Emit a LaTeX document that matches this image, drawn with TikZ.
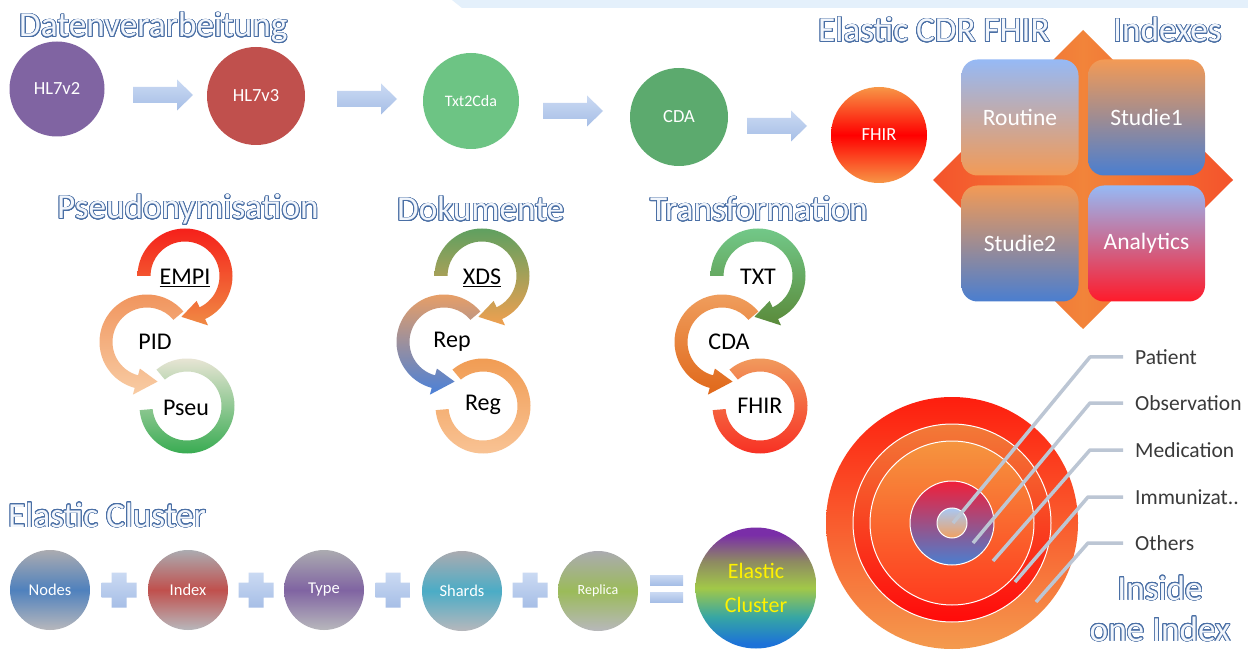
\documentclass[tikz,border=0pt]{standalone}
\usepackage{fontspec}
\setmainfont{Carlito}
\usepackage{contour}
\contourlength{0.85pt}
\contournumber{24}
\usetikzlibrary{shapes.geometric}
\definecolor{hb}{HTML}{4A6FA5}
\definecolor{hf}{HTML}{F2F6FC}
\definecolor{stripc}{HTML}{E4F0FB}
\definecolor{arrA}{HTML}{CBDAF3}
\definecolor{arrB}{HTML}{A6BEE6}
\definecolor{cPur}{HTML}{8064A2}
\definecolor{cRed}{HTML}{C0504D}
\definecolor{cGrnA}{HTML}{6DC484}
\definecolor{cGrnB}{HTML}{5CAA6E}
\definecolor{cOra}{HTML}{F79646}
\definecolor{cBlue}{HTML}{4F81BD}
\definecolor{cTeal}{HTML}{4BACC6}
\definecolor{cOlv}{HTML}{9BBB59}
\definecolor{cGray}{HTML}{ABABB0}
\definecolor{lblc}{HTML}{3A3A3A}
\definecolor{leadc}{HTML}{BCC6D4}
\definecolor{sqBlue}{HTML}{96B9F5}
\definecolor{sqOra}{HTML}{F39A55}
\definecolor{sqDBlue}{HTML}{4A7ED0}
\definecolor{sqRed}{HTML}{FF1A2A}
\definecolor{dmRed}{HTML}{F4532B}
\definecolor{dmOra}{HTML}{F2843A}
\definecolor{ecBlue}{HTML}{1C72D8}
\definecolor{ecTeal}{HTML}{36A6A4}
\definecolor{ecYG}{HTML}{A2C848}
\definecolor{ecOlv}{HTML}{8E8A62}
\definecolor{ecPur}{HTML}{7A2EA8}
% arc colours
\definecolor{psA}{HTML}{F2E8DC}\definecolor{psB}{HTML}{2EA84A}
\definecolor{piA}{HTML}{F0925A}\definecolor{piB}{HTML}{F8CCA4}
\definecolor{emA}{HTML}{F5201A}\definecolor{emB}{HTML}{F08A44}
\definecolor{rgA}{HTML}{F09A50}\definecolor{rgB}{HTML}{F9C598}
\definecolor{rpA}{HTML}{F0A060}\definecolor{rpB}{HTML}{4A80D8}
\definecolor{xdA}{HTML}{5FA060}\definecolor{xdB}{HTML}{F0A050}
\definecolor{fhA}{HTML}{F0A060}\definecolor{fhB}{HTML}{F82A20}
\definecolor{cdA}{HTML}{F0A060}\definecolor{cdB}{HTML}{E0681A}
\definecolor{txA}{HTML}{72C888}\definecolor{txB}{HTML}{5A8A3A}
% rings
\definecolor{rAa}{HTML}{FE1E0E}\definecolor{rAb}{HTML}{F49A4E}
\definecolor{rBa}{HTML}{F27A38}\definecolor{rBb}{HTML}{FF0A0A}
\definecolor{rCa}{HTML}{F5953F}\definecolor{rCb}{HTML}{FF3A1E}
\definecolor{rDa}{HTML}{F0203A}\definecolor{rDb}{HTML}{4A7FD0}
\definecolor{rEa}{HTML}{A8C8F5}\definecolor{rEb}{HTML}{F0A060}
\pgfdeclareverticalshading{ecshade}{100bp}{color(0bp)=(ecBlue); color(27bp)=(ecBlue); color(38bp)=(ecTeal); color(50bp)=(ecYG); color(61bp)=(ecOlv); color(72bp)=(ecPur); color(100bp)=(ecPur)}
\newcommand{\arcarrow}[7]{%
  \path[top color=#6, bottom color=#7, shift={(#1,#2)}]
   (#3:47.5) arc[start angle=#3, end angle=#4, radius=47.5]
   -- (#4:54.5) -- (#5:41) -- (#4:27.5) -- (#4:34.5)
   arc[start angle=#4, end angle=#3, radius=34.5] -- cycle;}
\newcommand{\arcband}[6]{%
  \path[top color=#5, bottom color=#6, shift={(#1,#2)}]
   (#3:47.5) arc[start angle=#3, end angle=#4, radius=47.5]
   -- (#4:34.5) arc[start angle=#4, end angle=#3, radius=34.5] -- cycle;}
\newcommand{\plussign}[2]{%
  \path[top color=arrA, bottom color=arrB, shift={(#1,#2)}]
   (-7.5,17.5) -- (7.5,17.5) -- (7.5,7.5) -- (17.5,7.5) -- (17.5,-7.5) -- (7.5,-7.5)
   -- (7.5,-17.5) -- (-7.5,-17.5) -- (-7.5,-7.5) -- (-17.5,-7.5) -- (-17.5,7.5) -- (-7.5,7.5) -- cycle;}
\newcommand{\blockarrow}[2]{%
  \path[top color=arrA, bottom color=arrB, shift={(#1,#2)}]
   (-30,8) -- (14,8) -- (14,15.5) -- (30,0) -- (14,-15.5) -- (14,-8) -- (-30,-8) -- cycle;}
\newcommand{\hd}[1]{\contour{hb}{\textcolor{hf}{#1}}}
\begin{document}
\begin{tikzpicture}[x=1pt,y=1pt,
  heading/.style={font=\fontsize{35.2}{40}\selectfont, inner sep=0, anchor=base west},
  topcirc/.style={circle, inner sep=0, text=white, font=\fontsize{18.5}{20}\selectfont},
  sq/.style={rectangle, rounded corners=16, minimum width=117, minimum height=116, inner sep=0, text=white, font=\fontsize{23.5}{26}\selectfont},
  arrlbl/.style={inner sep=0, text=black, font=\fontsize{24}{26}\selectfont},
  idxlbl/.style={inner sep=0, anchor=west, text=lblc, font=\fontsize{21.5}{24}\selectfont},
  leader/.style={draw=leadc, line width=3.5, line join=round},
  ring/.style={circle, inner sep=0, draw=white, line width=1},
  ecirc/.style={circle, minimum size=80, inner sep=0, text=white, top color=cGray, bottom color=cGray!85, font=\fontsize{16.5}{18}\selectfont}
]
\useasboundingbox (0,0) rectangle (1248,-652);
\fill[white] (0,0) rectangle (1248,-652);
\fill[stripc] (452,0) -- (1248,0) -- (1248,-8) -- (462,-8) -- cycle;

% headings
\node[heading] (hDaten) at (19,-37) {\hd{Datenverarbeitung}};
\node[heading] (hCDR) at (818,-42) {\hd{Elastic CDR FHIR}};
\node[heading] (hIdx) at (1113,-42) {\hd{Indexes}};
\node[heading] (hPseudo) at (57,-219) {\hd{Pseudonymisation}};
\node[heading] (hDok) at (397,-221) {\hd{Dokumente}};
\node[heading] (hTrans) at (650,-221) {\hd{Transformation}};
\node[heading] (hCluster) at (8,-527) {\hd{Elastic Cluster}};
\node[heading, anchor=base] (hInside) at (1160,-600) {\hd{Inside}};
\node[heading, anchor=base] (hOne) at (1160,-641) {\hd{one Index}};

% top row
\node[topcirc, minimum size=95, fill=cPur] (cHLa) at (57,-89) {HL7v2};
\node[topcirc, minimum size=98, fill=cRed] (cHLb) at (256,-96) {HL7v3};
\node[topcirc, minimum size=96, fill=cGrnA, font=\fontsize{16}{18}\selectfont] (cTxt) at (471,-101) {Txt2Cda};
\node[topcirc, minimum size=98, fill=cGrnB] (cCDA) at (679,-117) {CDA};
\node[topcirc, minimum size=96, top color=cOra, bottom color=cOra, middle color=red] (cFHIR) at (879,-135) {FHIR};
\blockarrow{163}{-95}
\blockarrow{367}{-99}
\blockarrow{573}{-111}
\blockarrow{777}{-126}

% indexes
\path[left color=dmRed, right color=dmRed, middle color=dmOra]
  (1083,-30) -- (1233,-180) -- (1083,-329) -- (933,-180) -- cycle;
\node[sq, top color=sqBlue, bottom color=sqOra] (sRoutine) at (1020,-117.5) {Routine};
\node[sq, top color=sqOra, bottom color=sqDBlue] (sStudie1) at (1146.5,-117.5) {Studie1};
\node[sq, top color=sqOra, bottom color=sqDBlue] (sStudie2) at (1020,-243.5) {Studie2};
\node[sq, top color=sqBlue, bottom color=sqRed] (sAnalytics) at (1146.5,-243.5) {Analytics};

% Pseudonymisation
\arcband{187}{-406}{130}{-175}{psA}{psB}
\arcarrow{147}{-342}{40}{255}{285}{piA}{piB}
\arcarrow{185}{-276}{180}{-65}{-95}{emA}{emB}
\node[arrlbl] (tEMPI) at (185,-278) {\underline{EMPI}};
\node[arrlbl] (tPID) at (155,-342) {PID};
\node[arrlbl] (tPseu) at (186,-408) {Pseu};

% Dokumente
\arcband{483}{-406}{130}{-175}{rgA}{rgB}
\arcarrow{444}{-342}{40}{255}{285}{rpA}{rpB}
\arcarrow{482}{-276}{180}{-65}{-95}{xdA}{xdB}
\node[arrlbl] (tXDS) at (482,-278) {\underline{XDS}};
\node[arrlbl] (tRep) at (452,-342) {Rep};
\node[arrlbl] (tReg) at (483,-405) {Reg};

% Transformation
\arcband{760}{-406}{130}{-175}{fhA}{fhB}
\arcarrow{722}{-342}{40}{255}{285}{cdA}{cdB}
\arcarrow{758}{-276}{180}{-65}{-95}{txA}{txB}
\node[arrlbl] (tTXT) at (758,-277) {TXT};
\node[arrlbl] (tCDA) at (729,-342) {CDA};
\node[arrlbl] (tFHIR) at (760,-406) {FHIR};

% inside one index
\node[ring, minimum size=252, draw=none, top color=rAa, bottom color=rAb] (r1) at (952,-523) {};
\node[ring, minimum size=198, top color=rBa, bottom color=rBb] (r2) at (952,-523) {};
\node[ring, minimum size=164, top color=rCa, bottom color=rCb] (r3) at (952,-523) {};
\node[ring, minimum size=84, top color=rDa, bottom color=rDb] (r4) at (952,-523) {};
\node[ring, minimum size=30, top color=rEa, bottom color=rEb] (r5) at (952,-523) {};
\node[idxlbl] (lPatient) at (1135,-357) {Patient};
\node[idxlbl] (lObs) at (1135,-403) {Observation};
\node[idxlbl] (lMed) at (1135,-450) {Medication};
\node[idxlbl] (lImm) at (1135,-497) {Immunizat..};
\node[idxlbl] (lOth) at (1135,-543) {Others};
\coordinate (pPatient) at (953,-523);
\coordinate (pObs) at (973,-543);
\coordinate (pMed) at (993,-561);
\coordinate (pImm) at (1015,-582);
\coordinate (pOth) at (1036,-602);
\draw[leader] ([xshift=-12pt]lPatient.west) -- ++(-33,0) -- (pPatient);
\draw[leader] ([xshift=-12pt]lObs.west) -- ++(-33,0) -- (pObs);
\draw[leader] ([xshift=-12pt]lMed.west) -- ++(-33,0) -- (pMed);
\draw[leader] ([xshift=-12pt]lImm.west) -- ++(-35,0) -- (pImm);
\draw[leader] ([xshift=-12pt]lOth.west) -- ++(-35,0) -- (pOth);

% elastic cluster
\node[ecirc, middle color=cBlue] (eNodes) at (50,-590) {Nodes};
\node[ecirc, middle color=cRed] (eIndex) at (188,-590) {Index};
\node[ecirc, middle color=cPur] (eType) at (324,-590) {Type};
\node[ecirc, middle color=cTeal] (eShards) at (462,-591) {Shards};
\node[ecirc, middle color=cOlv, font=\fontsize{14}{16}\selectfont] (eReplica) at (598,-591) {Replica};
\plussign{119}{-590}
\plussign{256}{-590}
\plussign{393}{-590}
\plussign{530}{-590}
\path[top color=arrA, bottom color=arrB] (650,-575) rectangle (683,-585);
\path[top color=arrA, bottom color=arrB] (650,-592) rectangle (683,-602);
\node[circle, minimum size=121, inner sep=0, shading=ecshade, text=yellow, font=\fontsize{22}{34}\selectfont, align=center] (eCluster) at (756,-588) {Elastic\\Cluster};
\end{tikzpicture}
\end{document}
